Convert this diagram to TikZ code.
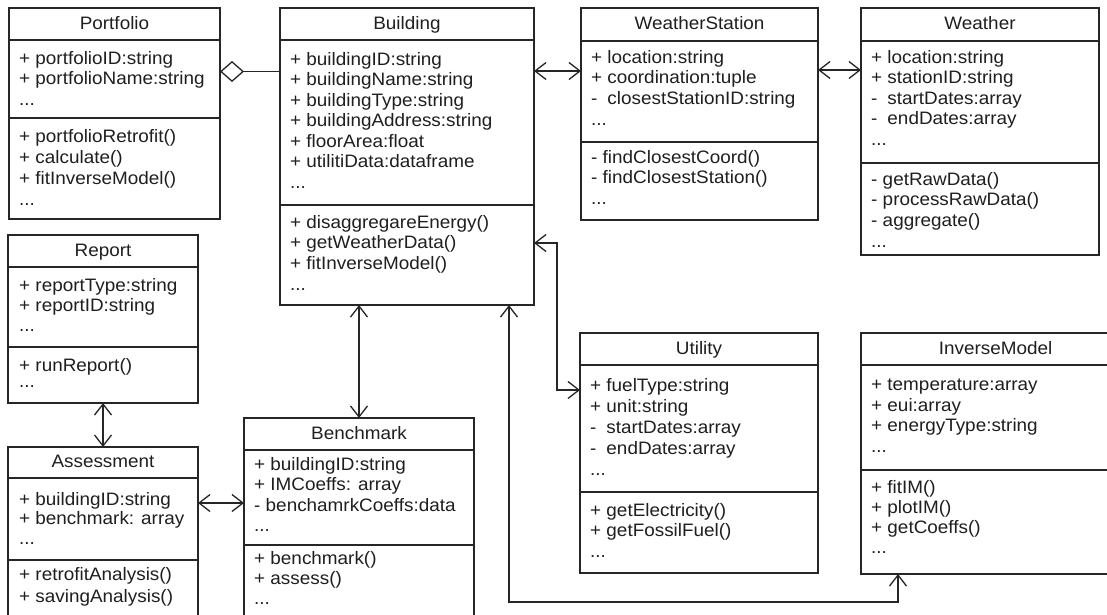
\documentclass[tikz,border=0pt]{standalone}
\usepackage{fontspec}
\setmainfont{Liberation Sans}[FakeStretch=1.05]
\usetikzlibrary{arrows.meta,calc}

\newcommand\fs{\rule{0pt}{14pt}}
\newcommand\mpriv{\makebox[0pt][l]{-}\phantom{+ }}

\tikzset{
  classbox/.style={draw=black!85, line width=1.4pt, rectangle, inner sep=0pt, outer sep=0pt, fill=white},
  divline/.style={draw=black!85, line width=1.4pt},
  ttl/.style={inner sep=0pt, anchor=base, text=black!88, font=\fontsize{18}{21}\selectfont},
  lst/.style={inner sep=0pt, anchor=north west, align=left, text=black!88},
  conn/.style={draw=black!85, line width=1.3pt, >={Straight Barb[length=11pt,width=17pt]}, <->},
  agg/.style={draw=black!85, line width=1.3pt},
}

% #1 name, #2 x, #3 y, #4 w, #5 h, #6 title divider, #7 attribute divider, #8 title
\newcommand\umlclass[8]{%
  \node[classbox, minimum width=#4pt, minimum height=#5pt, anchor=north west] (#1) at (#2,#3) {};
  \draw[divline] ($(#1.north west)+(0,#6)$) -- ($(#1.north east)+(0,#6)$);
  \draw[divline] ($(#1.north west)+(0,#7)$) -- ($(#1.north east)+(0,#7)$);
  \node[ttl] (#1-t) at ($(#1.north)+(0,#6/2+5)$) {#8};
}
% #1 name, #2 x, #3 first baseline, #4 line spacing, #5 lines
\newcommand\umllist[5]{%
  \node[lst, font=\fontsize{18}{#4}\selectfont] (#1) at (#2,#3-14) {\fs #5};
}

\begin{document}
\begin{tikzpicture}[x=1pt,y=-1pt]
\useasboundingbox (0,0) rectangle (1107,614);
\clip (0,0) rectangle (1107,614);
\fill[white] (0,0) rectangle (1107,614);

% Portfolio
\umlclass{pf}{9}{8}{211}{211}{32}{110}{Portfolio}
\umllist{pf-a}{19}{64}{20.7}{+ portfolioID:string\\+ portfolioName:string\\...}
\umllist{pf-m}{19}{142}{21}{+ portfolioRetrofit()\\+ calculate()\\+ fitInverseModel()\\...}

% Building
\umlclass{bld}{280}{8}{254}{297}{32}{197}{Building}
\umllist{bld-a}{290}{65}{20.5}{+ buildingID:string\\+ buildingName:string\\+ buildingType:string\\+ buildingAddress:string\\+ floorArea:float\\+ utilitiData:dataframe\\...}
\umllist{bld-m}{290}{228}{20.7}{+ disaggregareEnergy()\\+ getWeatherData()\\+ fitInverseModel()\\...}

% WeatherStation
\umlclass{ws}{581}{8}{237}{212}{33}{134}{WeatherStation}
\umllist{ws-a}{591}{63}{20.7}{+ location:string\\+ coordination:tuple\\\mpriv closestStationID:string\\...}
\umllist{ws-m}{591}{163}{20.5}{- findClosestCoord()\\- findClosestStation()\\...}

% Weather
\umlclass{wt}{861}{8}{238}{247}{33}{155}{Weather}
\umllist{wt-a}{871}{63}{20.5}{+ location:string\\+ stationID:string\\\mpriv startDates:array\\\mpriv endDates:array\\...}
\umllist{wt-m}{871}{185}{20.7}{- getRawData()\\- processRawData()\\- aggregate()\\...}

% Report
\umlclass{rp}{8}{235}{190}{168}{32}{112}{Report}
\draw[divline, line width=2.2pt] ($(rp.north west)+(0,112)$) -- ($(rp.north east)+(0,112)$);
\umllist{rp-a}{19}{291}{20}{+ reportType:string\\+ reportID:string\\...}
\umllist{rp-m}{19}{371}{16}{+ runReport()\\...}

% Assessment
\umlclass{as}{8}{447}{190}{220}{31}{113}{Assessment}
\umllist{as-a}{19}{505}{19.5}{+ buildingID:string\\+ benchmark: array\\...}
\umllist{as-m}{19}{580}{22}{+ retrofitAnalysis()\\+ savingAnalysis()}

% Benchmark
\umlclass{bm}{244}{418}{230}{230}{32}{127}{Benchmark}
\umllist{bm-a}{254}{470}{20.5}{+ buildingID:string\\+ IMCoeffs: array\\- benchamrkCoeffs:data\\...}
\umllist{bm-m}{254}{564}{20}{+ benchmark()\\+ assess()\\...}

% Utility
\umlclass{ut}{580}{333}{238}{240}{32}{159}{Utility}
\umllist{ut-a}{590}{391}{21}{+ fuelType:string\\+ unit:string\\\mpriv startDates:array\\\mpriv endDates:array\\...}
\umllist{ut-m}{590}{516}{20.5}{+ getElectricity()\\+ getFossilFuel()\\...}

% InverseModel
\umlclass{im}{861}{333}{269}{241}{32}{137}{InverseModel}
\draw[divline, line width=2.2pt] ($(im.north west)+(0,137)$) -- ($(im.north east)+(0,137)$);
\umllist{im-a}{871}{390}{20.8}{+ temperature:array\\+ eui:array\\+ energyType:string\\...}
\umllist{im-m}{871}{493}{20}{+ fitIM()\\+ plotIM()\\+ getCoeffs()\\...}

% connectors
\draw[agg, {Diamond[open,length=24pt,width=21pt]}-] ($(pf.north east)+(0,63.5)$) -- ($(bld.north west)+(0,63.5)$);
\draw[conn] ($(bld.north east)+(0,63)$) -- ($(ws.north west)+(0,63)$);
\draw[conn] ($(ws.north east)+(0,62)$) -- ($(wt.north west)+(0,62)$);
\draw[conn] ($(bld.north east)+(0,235)$) -- ++(23,0) |- ($(ut.north west)+(0,57)$);
\draw[conn] ($(bld.south west)+(79,0)$) -- ($(bm.north west)+(115,0)$);
\draw[conn] ($(bld.south west)+(229,0)$) |- ($(im.south west)+(37,28)$) -- ($(im.south west)+(37,0)$);
\draw[conn] ($(rp.south west)+(95,0)$) -- ($(as.north west)+(95,0)$);
\draw[conn] ($(as.north east)+(0,56)$) -- ($(bm.north west)+(0,85)$);
\end{tikzpicture}
\end{document}
